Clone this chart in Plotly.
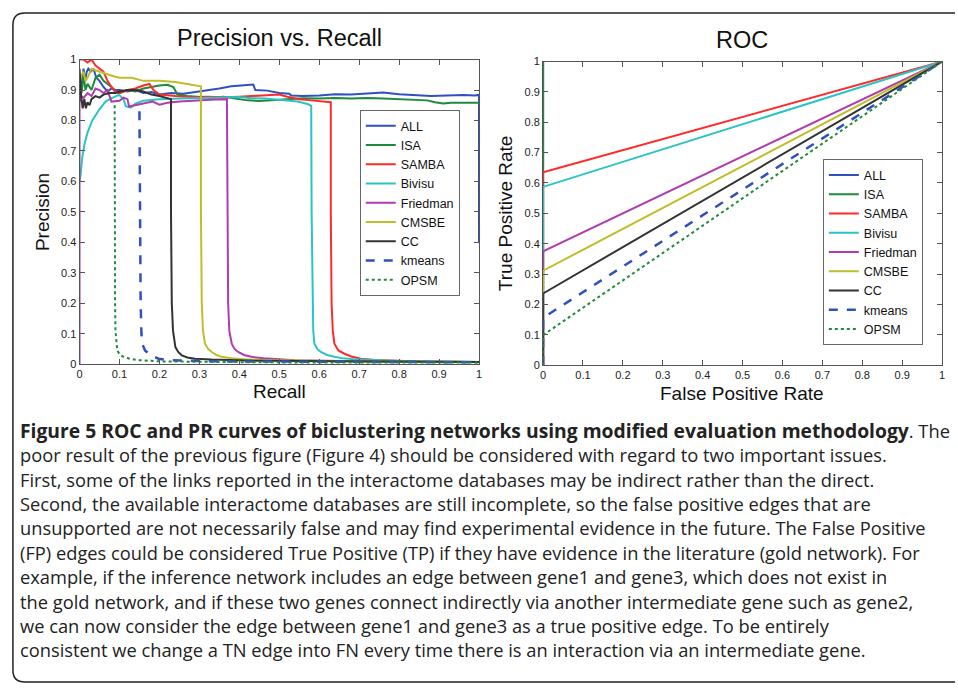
import plotly.graph_objects as go

W, H = 958, 689

SERIES = ["ALL", "ISA", "SAMBA", "Bivisu", "Friedman", "CMSBE", "CC", "kmeans", "OPSM"]
COLORS = ["#3050c0", "#1f8a3c", "#ff2a2a", "#2ac4c4", "#b03cb0", "#bebe28", "#333333", "#3050c0", "#1f8a3c"]
DASHES = ["solid"] * 7 + ["dash", "dot"]
WIDTHS = [2, 2, 2, 2, 2, 2, 2, 2.5, 2]

TICKS = [0, 0.1, 0.2, 0.3, 0.4, 0.5, 0.6, 0.7, 0.8, 0.9, 1]
TICK_TEXT = ["0", "0.1", "0.2", "0.3", "0.4", "0.5", "0.6", "0.7", "0.8", "0.9", "1"]

# Precision-Recall curves: (recall, precision)
PR_ALL = [(0, 0.86), (0.003, 0.95), (0.006, 0.90), (0.01, 0.97), (0.014, 0.93), (0.018, 0.96),
          (0.022, 0.97), (0.028, 0.96), (0.035, 0.97), (0.042, 0.94), (0.05, 0.93), (0.06, 0.91),
          (0.07, 0.895), (0.08, 0.905), (0.09, 0.9), (0.1, 0.9), (0.12, 0.895), (0.14, 0.9),
          (0.16, 0.89), (0.18, 0.893), (0.2, 0.885), (0.23, 0.89), (0.26, 0.888), (0.29, 0.893),
          (0.32, 0.9), (0.35, 0.905), (0.38, 0.912), (0.41, 0.915), (0.435, 0.918), (0.44, 0.9),
          (0.47, 0.898), (0.5, 0.89), (0.525, 0.888), (0.53, 0.882), (0.56, 0.88), (0.6, 0.882),
          (0.64, 0.886), (0.68, 0.885), (0.72, 0.888), (0.76, 0.892), (0.8, 0.886), (0.84, 0.884),
          (0.88, 0.88), (0.92, 0.882), (0.96, 0.884), (0.99, 0.882), (1.0, 0.884), (1.0, 0.40)]
PR_ISA = [(0, 0.93), (0.005, 0.89), (0.01, 0.95), (0.015, 0.9), (0.02, 0.92), (0.03, 0.9),
          (0.04, 0.94), (0.05, 0.95), (0.06, 0.93), (0.07, 0.92), (0.08, 0.91), (0.09, 0.895),
          (0.1, 0.89), (0.12, 0.9), (0.14, 0.895), (0.16, 0.905), (0.18, 0.91), (0.2, 0.915),
          (0.22, 0.917), (0.235, 0.91), (0.245, 0.885), (0.27, 0.88), (0.3, 0.877), (0.33, 0.875),
          (0.36, 0.878), (0.39, 0.872), (0.42, 0.866), (0.45, 0.864), (0.48, 0.867), (0.52, 0.87),
          (0.56, 0.873), (0.6, 0.872), (0.64, 0.874), (0.68, 0.872), (0.72, 0.874), (0.76, 0.872),
          (0.8, 0.87), (0.84, 0.868), (0.87, 0.866), (0.89, 0.86), (0.91, 0.856), (0.93, 0.858),
          (0.96, 0.857), (1.0, 0.858)]
PR_SAMBA = [(0, 1.0), (0.01, 1.0), (0.02, 0.99), (0.03, 1.0), (0.04, 0.98), (0.05, 0.97),
            (0.06, 0.96), (0.07, 0.93), (0.08, 0.91), (0.09, 0.895), (0.1, 0.89), (0.12, 0.9),
            (0.14, 0.905), (0.16, 0.915), (0.175, 0.92), (0.185, 0.9), (0.2, 0.885), (0.24, 0.88),
            (0.28, 0.877), (0.32, 0.878), (0.36, 0.876), (0.4, 0.878), (0.44, 0.88), (0.47, 0.882),
            (0.5, 0.885), (0.52, 0.878), (0.55, 0.87), (0.58, 0.866), (0.61, 0.862), (0.629, 0.86),
            (0.629, 0.5), (0.631, 0.2), (0.634, 0.11), (0.638, 0.067), (0.648, 0.045), (0.662, 0.035),
            (0.68, 0.025), (0.704, 0.018), (0.74, 0.014), (0.786, 0.011), (0.85, 0.009), (0.92, 0.008),
            (1.0, 0.007)]
PR_BIVISU = [(0, 0.6), (0.003, 0.626), (0.007, 0.68), (0.012, 0.72), (0.02, 0.76), (0.032, 0.8),
             (0.049, 0.835), (0.065, 0.862), (0.082, 0.874), (0.099, 0.884), (0.11, 0.87), (0.116, 0.847),
             (0.128, 0.842), (0.14, 0.855), (0.16, 0.865), (0.2, 0.87), (0.25, 0.872), (0.3, 0.874),
             (0.35, 0.876), (0.4, 0.877), (0.43, 0.873), (0.463, 0.872), (0.505, 0.867), (0.546, 0.862),
             (0.571, 0.854), (0.58, 0.848), (0.581, 0.5), (0.583, 0.2), (0.585, 0.11), (0.588, 0.067),
             (0.595, 0.05), (0.604, 0.04), (0.62, 0.03), (0.638, 0.024), (0.66, 0.019), (0.686, 0.016),
             (0.73, 0.013), (0.786, 0.011), (0.86, 0.009), (0.93, 0.008), (1.0, 0.007)]
PR_FRIEDMAN = [(0, 0.0), (0, 0.86), (0.005, 0.88), (0.01, 0.874), (0.02, 0.89), (0.03, 0.88),
               (0.04, 0.905), (0.05, 0.9), (0.06, 0.89), (0.07, 0.9), (0.08, 0.862), (0.1, 0.865),
               (0.11, 0.875), (0.12, 0.87), (0.124, 0.846), (0.14, 0.85), (0.16, 0.855), (0.183, 0.862),
               (0.2, 0.852), (0.22, 0.858), (0.25, 0.862), (0.28, 0.865), (0.31, 0.867), (0.34, 0.869),
               (0.369, 0.87), (0.37, 0.5), (0.372, 0.2), (0.375, 0.11), (0.381, 0.067), (0.388, 0.05),
               (0.397, 0.04), (0.412, 0.03), (0.43, 0.024), (0.46, 0.019), (0.49, 0.016), (0.54, 0.013),
               (0.61, 0.011), (0.7, 0.009), (0.8, 0.008), (0.9, 0.0075), (1.0, 0.007)]
PR_CMSBE = [(0, 0.92), (0.005, 0.95), (0.01, 0.96), (0.015, 0.93), (0.02, 0.94), (0.03, 0.97),
            (0.04, 0.965), (0.05, 0.96), (0.06, 0.955), (0.07, 0.95), (0.085, 0.945), (0.1, 0.94),
            (0.13, 0.94), (0.16, 0.93), (0.2, 0.93), (0.24, 0.926), (0.27, 0.92), (0.295, 0.915),
            (0.304, 0.912), (0.304, 0.5), (0.306, 0.2), (0.309, 0.11), (0.314, 0.067), (0.322, 0.05),
            (0.331, 0.04), (0.343, 0.03), (0.356, 0.024), (0.38, 0.019), (0.41, 0.016), (0.46, 0.014),
            (0.53, 0.012), (0.62, 0.01), (0.72, 0.009), (0.85, 0.008), (1.0, 0.007)]
PR_CC = [(0, 0.97), (0.004, 0.88), (0.008, 0.84), (0.012, 0.87), (0.016, 0.84), (0.02, 0.86),
         (0.025, 0.85), (0.03, 0.87), (0.04, 0.88), (0.05, 0.875), (0.06, 0.885), (0.075, 0.89),
         (0.09, 0.89), (0.1, 0.895), (0.12, 0.9), (0.14, 0.9), (0.16, 0.895), (0.18, 0.885),
         (0.2, 0.88), (0.215, 0.875), (0.229, 0.87), (0.229, 0.5), (0.231, 0.2), (0.234, 0.11),
         (0.24, 0.056), (0.247, 0.04), (0.256, 0.029), (0.27, 0.022), (0.289, 0.018), (0.33, 0.015),
         (0.372, 0.013), (0.45, 0.011), (0.55, 0.01), (0.7, 0.009), (0.85, 0.008), (1.0, 0.007)]
PR_KMEANS = [(0.15, 0.83), (0.151, 0.5), (0.153, 0.2), (0.155, 0.1), (0.157, 0.067), (0.164, 0.045),
             (0.173, 0.035), (0.185, 0.025), (0.198, 0.018), (0.225, 0.013), (0.3, 0.01), (0.4, 0.009),
             (0.55, 0.008), (0.7, 0.007), (0.85, 0.0065), (1.0, 0.006)]
PR_OPSM = [(0.088, 0.85), (0.088, 0.5), (0.089, 0.2), (0.09, 0.11), (0.0945, 0.045), (0.1, 0.033),
           (0.107, 0.026), (0.125, 0.018), (0.148, 0.013), (0.206, 0.009), (0.3, 0.007), (0.45, 0.006),
           (0.6, 0.0055), (0.8, 0.005), (1.0, 0.005)]
PR_DATA = [PR_ALL, PR_ISA, PR_SAMBA, PR_BIVISU, PR_FRIEDMAN, PR_CMSBE, PR_CC, PR_KMEANS, PR_OPSM]

# ROC curves: (FPR, TPR)
ROC_ALL = [(0, 0), (0, 1.0)]
ROC_ISA = [(0, 0), (0, 1.0)]
ROC_SAMBA = [(0, 0), (0, 0.635), (1, 1)]
ROC_BIVISU = [(0, 0), (0, 0.587), (1, 1)]
ROC_FRIEDMAN = [(0, 0), (0, 0.375), (1, 1)]
ROC_CMSBE = [(0, 0), (0, 0.311), (1, 1)]
ROC_CC = [(0, 0), (0, 0.236), (1, 1)]
ROC_KMEANS = [(0, 0), (0, 0.156), (1, 1)]
ROC_OPSM = [(0, 0), (0, 0.099), (1, 1)]
ROC_DATA = [ROC_ALL, ROC_ISA, ROC_SAMBA, ROC_BIVISU, ROC_FRIEDMAN, ROC_CMSBE, ROC_CC, ROC_KMEANS, ROC_OPSM]

CAPTION_BOLD = "Figure 5 ROC and PR curves of biclustering networks using modified evaluation methodology"
CAPTION = [
    ". The",
    "poor result of the previous figure (Figure 4) should be considered with regard to two important issues.",
    "First, some of the links reported in the interactome databases may be indirect rather than the direct.",
    "Second, the available interactome databases are still incomplete, so the false positive edges that are",
    "unsupported are not necessarily false and may find experimental evidence in the future. The False Positive",
    "(FP) edges could be considered True Positive (TP) if they have evidence in the literature (gold network). For",
    "example, if the inference network includes an edge between gene1 and gene3, which does not exist in",
    "the gold network, and if these two genes connect indirectly via another intermediate gene such as gene2,",
    "we can now consider the edge between gene1 and gene3 as a true positive edge. To be entirely",
    "consistent we change a TN edge into FN every time there is an interaction via an intermediate gene.",
]


def px(x):
    return x / W


def py(y):
    return 1 - y / H


fig = go.Figure()

for name, data, c, d, w in zip(SERIES, PR_DATA, COLORS, DASHES, WIDTHS):
    fig.add_trace(go.Scatter(x=[p[0] for p in data], y=[p[1] for p in data], mode="lines",
                             name=name, line=dict(color=c, dash=d, width=w),
                             xaxis="x", yaxis="y", legend="legend"))
for name, data, c, d, w in zip(SERIES, ROC_DATA, COLORS, DASHES, WIDTHS):
    fig.add_trace(go.Scatter(x=[p[0] for p in data], y=[p[1] for p in data], mode="lines",
                             name=name, line=dict(color=c, dash=d, width=w),
                             xaxis="x2", yaxis="y2", legend="legend2"))

axis_common = dict(range=[0, 1], showline=True, linecolor="#555", linewidth=1, mirror="ticks",
                   ticks="inside", ticklen=5, tickcolor="#555", showgrid=False, zeroline=False,
                   tickvals=TICKS, ticktext=TICK_TEXT,
                   tickfont=dict(family="Liberation Sans, Arial", size=11, color="#222"))

legend_common = dict(bgcolor="white", bordercolor="#666", borderwidth=1,
                     font=dict(family="Liberation Sans, Arial", size=12.5, color="#111"),
                     xanchor="left", yanchor="top", tracegroupgap=0, itemwidth=30)

LBL = dict(family="Liberation Sans, Arial", color="#111")
annotations = [
    dict(text="Precision vs. Recall", x=px(278), y=py(33), font=dict(size=23.5, **LBL)),
    dict(text="ROC", x=px(744), y=py(35), font=dict(size=23.5, **LBL)),
    dict(text="Recall", x=px(278), y=py(392), font=dict(size=19, **LBL)),
    dict(text="Precision", x=px(40), y=py(210), textangle=-90, font=dict(size=19, **LBL)),
    dict(text="False Positive Rate", x=px(744), y=py(394), font=dict(size=19, **LBL)),
    dict(text="True Positive Rate", x=px(505), y=py(211), textangle=-90, font=dict(size=19, **LBL)),
]
for a in annotations:
    a.update(xref="paper", yref="paper", xanchor="center", yanchor="middle", showarrow=False)
for i, line in enumerate(CAPTION):
    text = line
    if i == 0:
        text = f"<span style='font-size:19.3px'><b>{CAPTION_BOLD}</b></span>{line}"
    annotations.append(dict(text=text, x=px(15), y=py(432 + 24.8 * i), xref="paper", yref="paper",
                            xanchor="left", yanchor="middle", showarrow=False,
                            font=dict(family="Open Sans", size=18.3, color="#222")))

border = (f"M {px(958)},{py(7)} L {px(22)},{py(7)} Q {px(10)},{py(7)} {px(10)},{py(19)} "
          f"L {px(10)},{py(676)} Q {px(10)},{py(688)} {px(22)},{py(688)} L {px(958)},{py(688)}")

fig.update_layout(
    width=W, height=H, margin=dict(l=0, r=0, t=0, b=0),
    paper_bgcolor="white", plot_bgcolor="white",
    xaxis=dict(domain=[px(77), px(479)], anchor="y", **axis_common),
    yaxis=dict(domain=[py(364.5), py(54.5)], anchor="x", **axis_common),
    xaxis2=dict(domain=[px(543.5), px(945)], anchor="y2", **axis_common),
    yaxis2=dict(domain=[py(365.5), py(56.5)], anchor="x2", **axis_common),
    legend=dict(x=px(359), y=py(106), **legend_common),
    legend2=dict(x=px(825), y=py(156), **legend_common),
    annotations=annotations,
    shapes=[dict(type="path", path=border, xref="paper", yref="paper",
                 line=dict(color="#222", width=1.5))],
    showlegend=True,
)

fig.write_html("out.html", config={"displayModeBar": False},
               post_script="document.body.style.margin='0';")
